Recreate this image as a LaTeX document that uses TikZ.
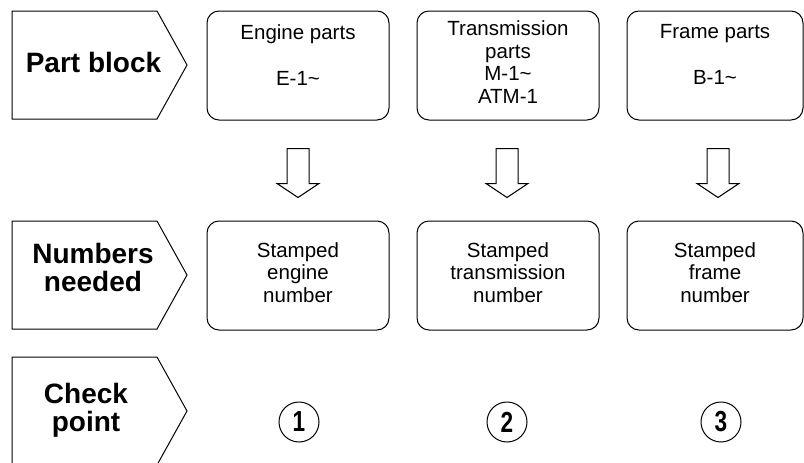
\documentclass[tikz,border=0pt]{standalone}
\usepackage{fontspec}
\usepackage{graphicx}
\setmainfont{Liberation Sans}
\usetikzlibrary{calc}
\tikzset{
  box/.style={draw=black, line width=1pt, rounded corners=12pt, inner sep=0pt},
  pent/.style={draw=black, line width=1pt},
  blk/.style={draw=black, line width=1pt, fill=white},
  txt/.style={inner sep=0pt, align=center, font=\fontsize{20.5}{22.5}\selectfont},
  lbl/.style={inner sep=0pt, align=center, font=\fontsize{28}{28.5}\selectfont\bfseries},
  chk/.style={draw=black, line width=1pt, circle, minimum size=40pt, inner sep=0pt,
              font=\fontsize{29}{29}\selectfont\bfseries}
}
\begin{document}
\begin{tikzpicture}[x=1pt,y=-1pt]
\useasboundingbox (0,0) rectangle (804,463);
% left pentagons
\coordinate (p1) at (12,11);
\draw[pent] (p1) -- ++(145,0) -- ++(30,54) -- ++(-30,54) -- ++(-145,0) -- cycle;
\node[lbl, anchor=base] (partlbl) at (93.5,72) {Part block};
\coordinate (p2) at (12,221);
\draw[pent] (p2) -- ++(145,0) -- ++(30,54) -- ++(-30,54) -- ++(-145,0) -- cycle;
\node[lbl, anchor=north] (numlbl) at (93,243) {Numbers\\needed};
\coordinate (p3) at (12,357);
\draw[pent] (p3) -- ++(145,0) -- ++(30,54) -- ++(-30,54) -- ++(-145,0) -- cycle;
\node[lbl, anchor=north, font=\fontsize{28}{28}\selectfont\bfseries] (chklbl) at (86,383) {Check\\point};
% row 1 boxes
\node[box, minimum width=182pt, minimum height=109pt] (eng) at (298,65.5) {};
\node[box, minimum width=182pt, minimum height=109pt] (trn) at (508,65.5) {};
\node[box, minimum width=176pt, minimum height=109pt] (frm) at (715,65.5) {};
\node[txt, anchor=north] (engt) at (298,24.3) {Engine parts\\[24pt]E-1\textasciitilde};
\node[txt, anchor=north] (trnt) at (508,20.5) {Transmission\\parts\\M-1\textasciitilde\\ATM-1};
\node[txt, anchor=north] (frmt) at (715,24) {Frame parts\\[24pt]B-1\textasciitilde};
% row 2 boxes
\node[box, minimum width=182pt, minimum height=109pt] (eng2) at (298,275.5) {};
\node[box, minimum width=182pt, minimum height=109pt] (trn2) at (508,275.5) {};
\node[box, minimum width=176pt, minimum height=109pt] (frm2) at (715,275.5) {};
\node[txt, anchor=north] (eng2t) at (298,242.3) {Stamped\\engine\\number};
\node[txt, anchor=north] (trn2t) at (508,242.3) {Stamped\\transmission\\number};
\node[txt, anchor=north] (frm2t) at (715,242.3) {Stamped\\frame\\number};
% block arrows
\draw[blk] ($(eng.south)+(-11,28)$) -- ++(22,0) -- ++(0,35) -- ++(10,0) -- ++(-21,14) -- ++(-21,-14) -- ++(10,0) -- cycle;
\draw[blk] ($(trn.south)+(-12,28)$) -- ++(22,0) -- ++(0,35) -- ++(10,0) -- ++(-21,14) -- ++(-21,-14) -- ++(10,0) -- cycle;
\draw[blk] ($(frm.south)+(-8,28)$) -- ++(22,0) -- ++(0,35) -- ++(10,0) -- ++(-21,14) -- ++(-21,-14) -- ++(10,0) -- cycle;
% check points
\node[chk] (c1) at (299,422) {\scalebox{0.78}[1]{1}};
\node[chk] (c2) at (507,422) {\scalebox{0.78}[1]{2}};
\node[chk] (c3) at (721,422) {\scalebox{0.78}[1]{3}};
\end{tikzpicture}
\end{document}
